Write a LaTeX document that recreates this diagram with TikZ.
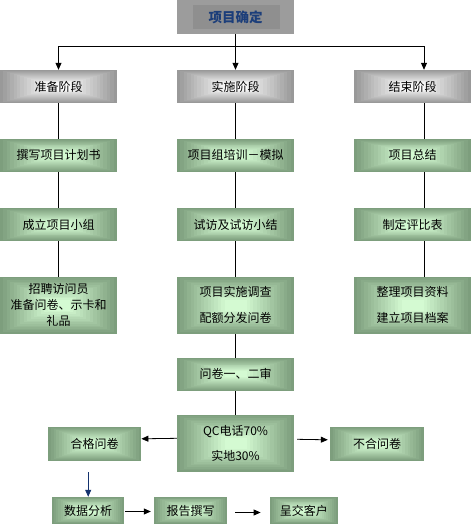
\documentclass[tikz,border=0pt]{standalone}
\usepackage{fontspec}
\setmainfont{Noto Sans CJK SC}
\usepackage{tikz}
\usetikzlibrary{arrows.meta,positioning,calc}
\usepackage{xcolor}

\definecolor{greendark}{RGB}{125,158,125}
\definecolor{greenlight}{RGB}{212,250,210}
\definecolor{graydark}{RGB}{153,153,153}
\definecolor{graylight}{RGB}{250,250,250}
\definecolor{topgray}{RGB}{156,156,156}
\definecolor{topinner}{RGB}{143,143,143}
\definecolor{titleblue}{RGB}{28,62,122}
\definecolor{arrowblue}{RGB}{20,50,110}

\begin{document}
\begin{tikzpicture}[x=1pt,y=-1pt,
      bevel/.style 2 args={fill=#1,path picture={
          \foreach \k in {0,...,14}{
            \pgfmathsetmacro\bt{0.058*\k}
            \pgfmathsetmacro\bmix{100-100*\k/14}
            \fill[#1!\bmix!#2]
              ($(path picture bounding box.south west)!\bt!(path picture bounding box.center)$)
              rectangle
              ($(path picture bounding box.north east)!\bt!(path picture bounding box.center)$);
          }}},
      box/.style={bevel={greendark}{greenlight},minimum width=117pt,
                  minimum height=33pt,inner sep=0pt,align=center,
                  font=\fontsize{12}{16}\selectfont},
      stage/.style={box,bevel={graydark}{graylight}},
      small/.style={box,minimum width=#1},
      arrow/.style={-{Triangle[length=7pt,width=6pt]},line width=0.8pt},
      line/.style={line width=0.8pt},
    ]
    \useasboundingbox (0,0) rectangle (471,524);

    % project start
    \node[minimum width=117pt,minimum height=34pt,fill=topgray,
          text=titleblue,font=\fontsize{13.5}{16}\bfseries,
          path picture={\fill[topinner]
            ($(path picture bounding box.south west)+(16pt,5pt)$) rectangle
            ($(path picture bounding box.north east)-(14pt,5pt)$);}]
      (start) at (235.5,17) {项目确定};

    % stages
    \node[stage] (prep) at (58.5,86.5)  {准备阶段};
    \node[stage] (impl) at (235.5,86.5) {实施阶段};
    \node[stage] (fin)  at (412.5,86.5) {结束阶段};
    \coordinate (bar)   at (235.5,46);
    \coordinate (rline) at (424,0);

    % preparation column
    \node[box] (plan)    at (58.5,155.3) {撰写项目计划书};
    \node[box] (team)    at (58.5,224.7) {成立项目小组};
    \node[box,minimum height=57pt] (hire) at (58.5,305.3)
      {招聘访问员\\准备问卷、示卡和\\礼品};

    % implementation column
    \node[box] (train)   at (235.5,155.3) {项目组培训－模拟};
    \node[box] (pilot)   at (235.5,224.7) {试访及试访小结};
    \node[box,minimum height=57pt] (survey) at (235.5,305.3)
      {项目实施调查\\[10pt]配额分发问卷};
    \node[box] (check)   at (235.5,374.3) {问卷一、二审};
    \node[box,minimum height=57pt] (qc) at (235.5,443.3)
      {QC电话70\%\\[9.5pt]实地30\%};

    % closing column
    \node[box] (summary) at (412.5,155.3) {项目总结};
    \node[box] (table)   at (412.5,224.7) {制定评比表};
    \node[box,minimum height=57pt] (archive) at (412.5,305.3)
      {整理项目资料\\[10pt]建立项目档案};

    % results
    \node[small=93pt,minimum height=34pt] (ok)  at (94.7,443.8) {合格问卷};
    \node[small=94pt,minimum height=34pt] (bad) at (377,443.8)  {不合问卷};
    \node[small=72pt,minimum height=27pt] (data)   at (88.2,510.5)  {数据分析};
    \node[small=73pt,minimum height=27pt] (report) at (190.5,510.5) {报告撰写};
    \node[small=68pt,minimum height=27pt] (client) at (303.8,510.5) {呈交客户};

    % Arrows
    \draw[arrow] (start) -- (impl);
    \draw[arrow] (bar) -| (prep.north);
    \draw[arrow] (bar) -| (fin.north -| rline);
    \draw[line] (prep) -- (plan);
    \draw[line] (plan) -- (team);
    \draw[line] (team) -- (hire);
    \draw[line] (impl) -- (train);
    \draw[line] (train) -- (pilot);
    \draw[line] (pilot) -- (survey);
    \draw[line] (survey) -- (check);
    \draw[line] (check) -- (qc);
    \draw[line] (fin.south -| rline) -- (summary.north -| rline);
    \draw[line] (summary.south -| rline) -- (table.north -| rline);
    \draw[line] (table.south -| rline) -- (archive.north -| rline);
    \draw[arrow] ([yshift=5pt]qc.west) -- ([yshift=5pt]ok.east);
    \draw[arrow] ([xshift=3pt,yshift=4pt]qc.east) -- ([xshift=-2pt,yshift=4pt]bad.west);
    \draw[arrow,arrowblue] ([yshift=-11pt]ok.south -| data.north) -- (data.north);
    \draw[arrow] ([xshift=1pt,yshift=-1pt]data.east) -- ([xshift=-3pt,yshift=-1pt]report.west);
    \draw[arrow] ([xshift=8pt,yshift=-2pt]report.east) -- ([xshift=-9pt,yshift=-2pt]client.west);

  \end{tikzpicture}
\end{document}
